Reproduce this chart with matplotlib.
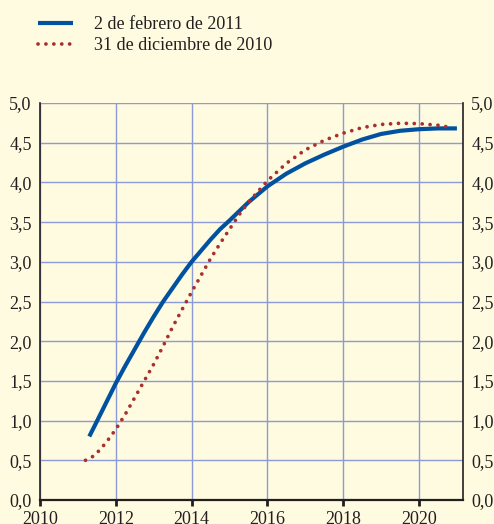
import matplotlib
matplotlib.use("Agg")
import matplotlib.pyplot as plt
from matplotlib.lines import Line2D

# Data
blue_x = [2011.3, 2011.5, 2011.75, 2012.0, 2012.25, 2012.5, 2012.75, 2013.0, 2013.25, 2013.5,
          2013.75, 2014.0, 2014.25, 2014.5, 2014.75, 2015.0, 2015.5,
          2016.0, 2016.5, 2017.0, 2017.5, 2018.0, 2018.5, 2019.0, 2019.5, 2020.0, 2020.5, 2021.0]
blue_y = [0.80, 0.99, 1.23, 1.47, 1.69, 1.90, 2.11, 2.31, 2.50, 2.67,
          2.84, 3.00, 3.14, 3.28, 3.41, 3.52, 3.75,
          3.95, 4.11, 4.24, 4.35, 4.45, 4.54, 4.61, 4.65, 4.67, 4.68, 4.68]

red_x = [2011.2, 2011.4, 2011.6, 2011.8, 2012.0, 2012.25, 2012.5, 2012.75, 2013.0, 2013.25,
         2013.5, 2013.75, 2014.0, 2014.25, 2014.5, 2014.75, 2015.0, 2015.25,
         2015.5, 2016.0, 2016.5, 2017.0, 2017.5, 2018.0, 2018.5, 2019.0, 2019.5, 2020.0,
         2020.5, 2020.86]
red_y = [0.50, 0.55, 0.64, 0.76, 0.89, 1.08, 1.29, 1.50, 1.71, 1.94,
         2.18, 2.40, 2.62, 2.83, 3.04, 3.23, 3.41, 3.59,
         3.75, 4.02, 4.24, 4.41, 4.53, 4.62, 4.69, 4.73, 4.745, 4.74,
         4.72, 4.69]

label_blue = "2 de febrero de 2011"
label_red = "31 de diciembre de 2010"
x_ticks = [2010, 2012, 2014, 2016, 2018, 2020]
y_ticks = [0.0, 0.5, 1.0, 1.5, 2.0, 2.5, 3.0, 3.5, 4.0, 4.5, 5.0]
y_labels = ["0,0", "0,5", "1,0", "1,5", "2,0", "2,5", "3,0", "3,5", "4,0", "4,5", "5,0"]

bg = "#fefbe0"
grid_c = "#8c9ad8"
txt_c = "#231f20"
blue_c = "#0052a0"
red_c = "#a8302e"
red_ls = (0, (0.01, 2.1))

plt.rcParams["font.family"] = ["Liberation Serif", "DejaVu Serif"]

fig = plt.figure(figsize=(4.94, 5.24), dpi=100, facecolor=bg)
ax = fig.add_axes([40 / 494, 1 - 500 / 524, 423 / 494, 397 / 524])
ax.set_facecolor(bg)

ax.set_xlim(2010, 2021.16)
ax.set_ylim(0, 5.0)

ax.plot(blue_x, blue_y, color=blue_c, lw=3.0, solid_capstyle="butt",
        solid_joinstyle="round", zorder=3, label=label_blue)
ax.plot(red_x, red_y, color=red_c, lw=2.7, linestyle=red_ls,
        dash_capstyle="round", zorder=4, label=label_red)

ax.set_xticks(x_ticks)
ax.set_xticklabels([str(t) for t in x_ticks])
ax.set_yticks(y_ticks)
ax.set_yticklabels(y_labels)
ax.grid(True, color=grid_c, lw=1.0, zorder=1)
ax.set_axisbelow(True)

ax.spines["top"].set_visible(False)
for s in ["left", "right"]:
    ax.spines[s].set_color(txt_c)
    ax.spines[s].set_linewidth(1.2)
ax.spines["bottom"].set_color(txt_c)
ax.spines["bottom"].set_linewidth(1.6)

ax.tick_params(axis="x", direction="out", length=4, width=2, colors=txt_c, labelsize=13, pad=4)
ax.tick_params(axis="y", length=0, labelsize=13, colors=txt_c, pad=6,
               right=True, labelright=True)

fig.legend(handles=[Line2D([], [], color=blue_c, lw=3.0, solid_capstyle="butt"),
                    Line2D([], [], color=red_c, lw=2.7, linestyle=red_ls, dash_capstyle="round")],
           labels=[label_blue, label_red], loc="upper left",
           bbox_to_anchor=(22 / 494, 1 - 0 / 524), frameon=False, fontsize=13,
           handlelength=1.9, handletextpad=1.2, labelspacing=0.2, labelcolor=txt_c)

fig.savefig("out.png", dpi=100, facecolor=bg)
